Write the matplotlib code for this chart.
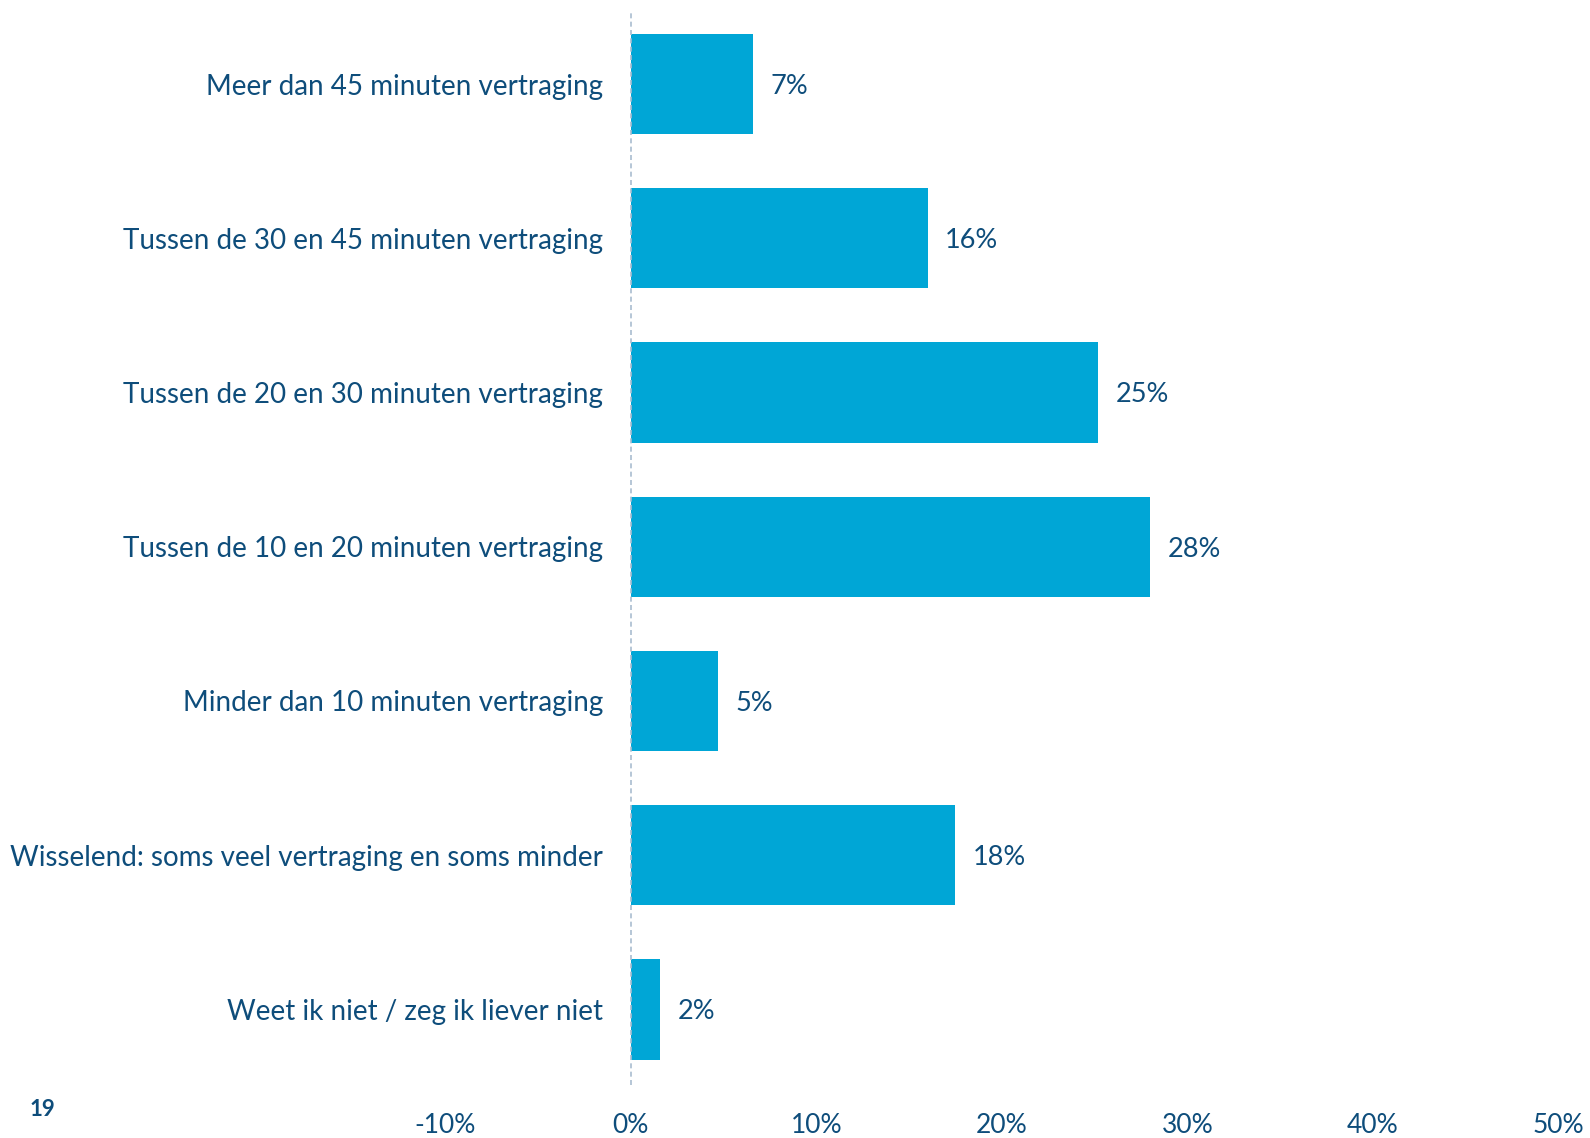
import matplotlib.pyplot as plt
from matplotlib.ticker import FuncFormatter

categories = [
    "Meer dan 45 minuten vertraging",
    "Tussen de 30 en 45 minuten vertraging",
    "Tussen de 20 en 30 minuten vertraging",
    "Tussen de 10 en 20 minuten vertraging",
    "Minder dan 10 minuten vertraging",
    "Wisselend: soms veel vertraging en soms minder",
    "Weet ik niet / zeg ik liever niet",
]
shares = [6.6, 16.0, 25.2, 28.0, 4.7, 17.5, 1.6]
ticks = [-10, 0, 10, 20, 30, 40, 50]
page_number = "19"

bar_color = "#00A6D6"
text_color = "#0E4D7B"
plt.rcParams['font.family'] = ['Lato', 'DejaVu Sans']

fig = plt.figure(figsize=(15.9, 11.38), dpi=100)
ax = fig.add_axes([0, 0.0466, 1, 0.9446])

pos = list(range(len(categories)))
ax.barh(pos, shares, height=0.65, color=bar_color, zorder=2)
ax.axvline(0, color="#A9BCCF", lw=1.2, ls=(0, (3, 2)), zorder=3)

for y, v, name in zip(pos, shares, categories):
    ax.text(v + 0.95, y, f"{v:.0f}%", va="center_baseline", ha="left",
            fontsize=19.5, color=text_color)
    ax.text(-1.5, y, name, va="center_baseline", ha="right", fontsize=20.0,
            color=text_color)

ax.set_xlim(-34.0, 51.7)
ax.set_ylim(6.49, -0.48)
ax.set_xticks(ticks)
ax.xaxis.set_major_formatter(FuncFormatter(lambda x, _: f"{x:.0f}%"))
ax.tick_params(axis="x", length=0, pad=20, labelsize=19, labelcolor=text_color)
ax.set_yticks([])
for s in ax.spines.values():
    s.set_visible(False)

fig.text(30 / 1590, 1 - 1110 / 1138, page_number, fontsize=16, fontweight="bold",
         color=text_color, va="center", ha="left")

fig.savefig("out.png", dpi=100)
